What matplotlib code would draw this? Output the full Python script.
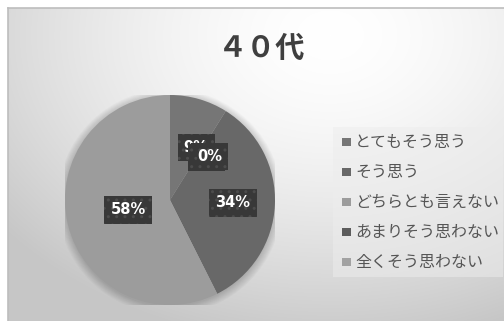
import numpy as np
import matplotlib
matplotlib.use("Agg")
import matplotlib.pyplot as plt
from matplotlib.patches import Rectangle, Circle

plt.rcParams['font.family'] = ['Noto Sans CJK JP', 'DejaVu Sans']

title = "４０代"
categories = ["とてもそう思う", "そう思う", "どちらとも言えない", "あまりそう思わない", "全くそう思わない"]
values = [9, 34, 58, 0, 0]
pct_labels = ["9%", "34%", "58%", "0%", "0%"]
colors = ["#767676", "#686868", "#9c9c9c", "#5c5c5c", "#a2a2a2"]

W, H = 504, 321
fig = plt.figure(figsize=(W / 100, H / 100), dpi=100)
fig.patch.set_facecolor("white")

# background layer in pixel coordinates
bg = fig.add_axes([0, 0, 1, 1])
bg.set_xlim(0, W)
bg.set_ylim(H, 0)
bg.axis("off")

yy, xx = np.mgrid[0:H, 0:W]
d = np.sqrt(((xx - 330) / 1.35) ** 2 + (yy - 35) ** 2) / 300.0
g = 1.0 - 0.21 * np.clip(d, 0, 1.15) ** 1.6
g = np.clip(g, 0.78, 1.0)
bg.imshow(np.dstack([g, g, g]), extent=(0, W, H, 0), zorder=0, interpolation="bilinear")
bg.add_patch(Rectangle((0, 0), W, 8, fc="white", ec="none", zorder=1))
bg.add_patch(Rectangle((0, 0), 7.5, H, fc="white", ec="none", zorder=1))
bg.plot([7.5, W], [8, 8], color="#bdbdbd", lw=1.2, zorder=2)
bg.plot([7.5, 7.5], [8, H], color="#bdbdbd", lw=1.2, zorder=2)

# title
bg.text(262, 48, title, ha="center", va="center", fontsize=21, fontweight="bold",
        color="#3f3f3f", zorder=3)

# legend panel
bg.add_patch(Rectangle((333, 127), 170, 150, fc="#ededed", ec="none", alpha=0.5, zorder=2))
for i, (cat, col) in enumerate(zip(categories, colors)):
    y = 142 + 30 * i
    bg.add_patch(Rectangle((342, y - 4.5), 8.5, 8.5, fc=col, ec="none", zorder=3))
    bg.text(355, y, cat, ha="left", va="center", fontsize=11.5, color="#555555", zorder=3)

# pie
cx, cy, r = 170, 200, 105
ax = fig.add_axes([(cx - r) / W, (H - cy - r) / H, 2 * r / W, 2 * r / H])
ax.set_xlim(-1, 1)
ax.set_ylim(-1, 1)
ax.axis("off")
for k in range(10):
    ax.add_patch(Circle((0, -0.015), 1.0 + 0.008 * k, fc="black", ec="none",
                        alpha=0.018, zorder=0))
wedges, _ = ax.pie(values, colors=colors, startangle=90, counterclock=False,
                   radius=1.0, wedgeprops=dict(linewidth=0, zorder=1))
ax.set_xlim(-1, 1)
ax.set_ylim(-1, 1)

box = dict(boxstyle="square,pad=0.42", fc="#383838", ec="#4c4c4c", lw=0, hatch="..")
dist = [0.52, 0.60, 0.41, 0.52, 0.52]
# zero-size slices get their labels pushed beside the small slice label (pixels)
nudge = [(11, 0), (0, 0), (0, 0), (22, -8), (25, -7)]
for i, (w, lab, dd) in enumerate(zip(wedges, pct_labels, dist)):
    a = np.deg2rad((w.theta1 + w.theta2) / 2)
    x, y = dd * np.cos(a), dd * np.sin(a)
    if w.theta2 == w.theta1:
        a0 = np.deg2rad((wedges[0].theta1 + wedges[0].theta2) / 2)
        x, y = 0.50 * np.cos(a0), 0.50 * np.sin(a0)
    x += nudge[i][0] / r
    y += nudge[i][1] / r
    ax.text(x, y, lab, ha="center", va="center", fontsize=10.5, fontweight="bold",
            family="DejaVu Sans", color="white", bbox=box, zorder=5 + i)

fig.savefig("out.png", dpi=100, facecolor="white")
